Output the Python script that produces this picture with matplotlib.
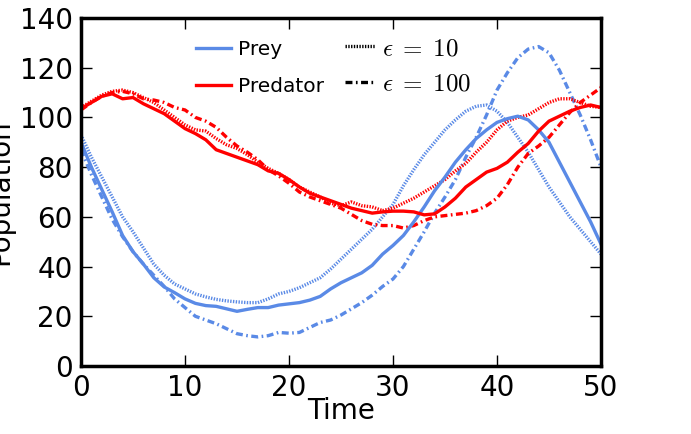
import matplotlib
matplotlib.use("Agg")
import matplotlib.pyplot as plt
import numpy as np

time = list(range(0, 51))

prey_base = [90, 80, 71, 62, 52.5, 46, 41, 35.5, 31.8, 29.5, 27, 25.2, 24.3, 24, 23, 22, 22.8, 23.5, 23.5, 24.5,
             25, 25.5, 26.5, 28, 31, 33.5, 35.5, 37.5, 40.5, 45, 48.5, 52.5, 58, 64, 70.5, 76, 82, 87, 91.5, 95,
             98, 99.5, 100.5, 99, 95, 90, 82, 74, 66, 58, 49]
prey_eps10 = [93, 84, 76, 68, 60, 54, 47.5, 41, 36.5, 33, 31, 29, 27.8, 26.8, 26.2, 25.8, 25.5, 25.5, 27, 29,
              30, 31.5, 33.5, 35.5, 39, 43, 47, 51, 55, 60, 65, 72.5, 79, 85, 90, 95, 99, 102.5, 104.5, 105,
              102.5, 98, 92, 86, 79, 72, 66, 60, 55, 50, 45]
prey_eps100 = [87, 77, 68, 59, 52, 46, 41, 36.5, 32, 27, 23.5, 20, 18.5, 17, 15, 13, 12.2, 11.7, 12.2, 13.5,
               13.2, 13.5, 15.5, 17.5, 18.5, 20.5, 23, 25.5, 28.5, 32, 35, 40, 47, 54, 61.5, 68, 75, 84, 92, 101,
               111, 118, 124, 127.5, 128.5, 126, 119, 110, 101, 91, 80]

pred_base = [103.5, 106, 108.5, 109.5, 107.5, 108, 105.5, 103.5, 101.5, 98.5, 95.5, 93.5, 91, 87, 85.5, 84, 82.5,
             81, 78.5, 77.5, 75, 72, 69.5, 68, 66.5, 65, 63.5, 62.5, 61.5, 62, 62.3, 62.3, 62, 60.8, 61.2, 64,
             67.5, 72, 75, 78, 79.5, 82, 86, 89.5, 94.5, 98.5, 100.5, 102.5, 104, 105, 104]
pred_eps10 = [104, 106.5, 109, 110.5, 111, 110, 108, 106, 103, 100, 97, 95, 94.5, 91.5, 89, 87.5, 85, 82, 79.5,
              77.5, 75, 72, 70, 68, 65.5, 64.5, 66, 64.5, 64, 62.5, 63.5, 65.5, 67.5, 70, 72.5, 75, 78.5, 81.5,
              86, 90, 95, 98.5, 100, 101, 103.5, 106, 107.5, 107.5, 106, 104.5, 104]
pred_eps100 = [103, 106, 108.5, 110, 110.5, 109.5, 107.5, 107, 106, 104, 103, 100, 98.5, 96, 92, 88.5, 86, 83,
               79, 76.5, 73.5, 70, 68, 66.5, 65, 63.5, 61, 58.5, 57, 56.5, 56.5, 55.5, 56.5, 58.5, 60, 60.5, 61,
               61.5, 62.5, 64.5, 67.5, 73, 80, 85.5, 88.5, 92, 97, 102, 106, 109, 112]

x_ticks = [0, 10, 20, 30, 40, 50]
y_ticks = [0, 20, 40, 60, 80, 100, 120, 140]

plt.rcParams['mathtext.fontset'] = 'cm'
plt.rcParams['lines.scale_dashes'] = False
plt.rcParams['font.family'] = ['DejaVu Sans']

BLUE = '#5a8ae6'
RED = '#ff0000'
DOT = (0, (1.0, 1.0))
DASHDOT = (0, (5, 2.5, 1.2, 2.5))
LW = 2.4

fig = plt.figure(figsize=(6.91, 4.34), dpi=100)
ax = fig.add_axes([81/691, 68/434, 520/691, 348/434])

ax.plot(time, prey_eps10, color=BLUE, lw=LW, linestyle=DOT)
ax.plot(time, prey_eps100, color=BLUE, lw=LW, linestyle=DASHDOT)
ax.plot(time, pred_eps10, color=RED, lw=LW, linestyle=DOT)
ax.plot(time, pred_eps100, color=RED, lw=LW, linestyle=DASHDOT)
l1, = ax.plot(time, prey_base, color=BLUE, lw=LW, label='Prey')
l2, = ax.plot(time, pred_base, color=RED, lw=LW, label='Predator')

h3, = ax.plot([], [], color='black', lw=LW, linestyle=DOT, label=r'$\epsilon\;=\;10$')
h4, = ax.plot([], [], color='black', lw=LW, linestyle=DASHDOT, label=r'$\epsilon\;=\;100$')

ax.set_xlim(0, 50)
ax.set_ylim(0, 140)
ax.set_xticks(x_ticks)
ax.set_yticks(y_ticks)
ax.tick_params(direction='in', length=8, width=1, labelsize=20, top=True, right=True, pad=6)
for s in ax.spines.values():
    s.set_linewidth(2.5)
ax.set_xlabel('Time', fontsize=20, labelpad=-4)
ax.set_ylabel('Population', fontsize=20)

leg1 = ax.legend(handles=[l1, l2], frameon=False, fontsize=14.5,
                 loc='upper left', bbox_to_anchor=((196-81)/520, (366-40)/348),
                 borderpad=0, borderaxespad=0, handlelength=1.75, handletextpad=0.35,
                 labelspacing=0.9)
ax.add_artist(leg1)
leg2 = ax.legend(handles=[h3, h4], frameon=False, fontsize=18,
                 loc='upper left', bbox_to_anchor=((345-81)/520, (366-36)/348),
                 borderpad=0, borderaxespad=0, handlelength=1.2, handletextpad=0.3,
                 labelspacing=0.45)

fig.savefig('out.png', dpi=100)
